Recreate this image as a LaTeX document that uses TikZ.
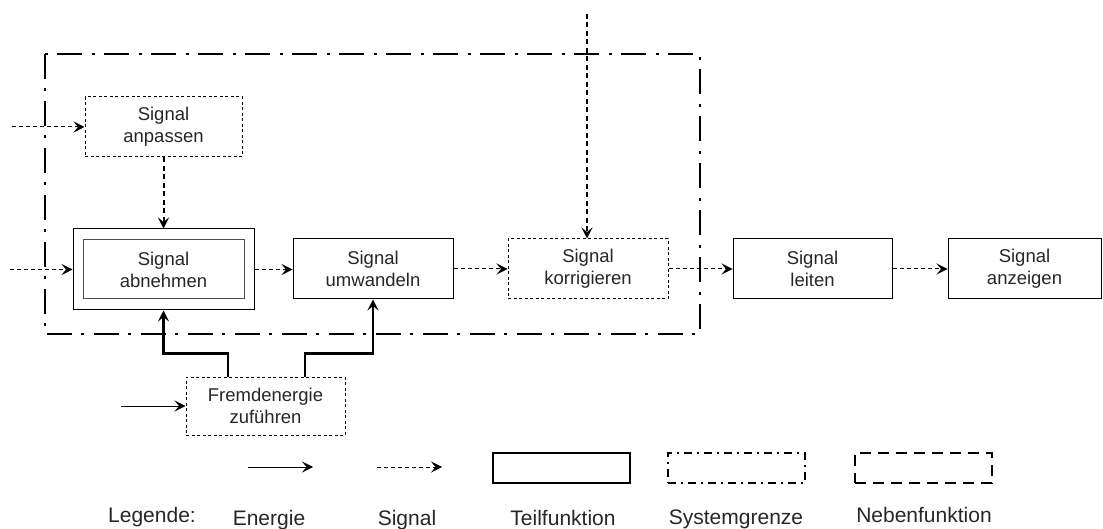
\documentclass[tikz,border=0pt]{standalone}
\usepackage{fontspec}
\setmainfont{Liberation Sans}
\usetikzlibrary{arrows.meta}
\begin{document}
\begin{tikzpicture}[x=1pt,y=-1pt,
  tip/.style={-{Stealth[length=11pt,width=11pt,inset=4.5pt]}},
  boxtext/.style={font=\fontsize{18.5}{22}\selectfont, align=center, text=black!85},
  func/.style={boxtext, draw, line width=1pt, minimum width=160pt, minimum height=60pt, inner sep=0pt},
  neben/.style={func, dash pattern=on 3pt off 2.5pt},
  sigline/.style={tip, line width=1pt, dash pattern=on 4pt off 3pt},
  sigthick/.style={tip, line width=2pt, dash pattern=on 5pt off 3.5pt},
  energy/.style={tip, line width=1pt},
  energythick/.style={tip, line width=2.5pt},
  boundary/.style={line width=2pt, dash pattern=on 25pt off 9pt on 3pt off 10pt},
  legtext/.style={font=\fontsize{21}{24}\selectfont, text=black!85, anchor=center}]
\useasboundingbox (0,0) rectangle (1103,529);

% system boundary
\draw[boundary] (45,54) rectangle (700,334);

% function blocks
\node[neben, minimum width=157pt] (anp) at (163.5,127) {Signal\\anpassen};
\node[draw, line width=1pt, minimum width=181pt, minimum height=81pt] (abn) at (163.5,269.5) {};
\node[func, draw=black!70, minimum width=161pt, minimum height=59pt] (abni) at (163.5,269.5) {Signal\\abnehmen};
\node[func] (umw) at (373,269) {Signal\\umwandeln};
\node[neben] (kor) at (588,269) {Signal\\korrigieren};
\node[func, minimum width=159pt] (lei) at (812.5,269) {Signal\\leiten};
\node[func, minimum width=153pt] (anz) at (1024.5,269) {Signal\\anzeigen};
\node[neben, minimum width=159pt, minimum height=58pt] (fre) at (265.5,406) {Fremdenergie\\zuführen};

% free ends of incoming connectors
\coordinate (inAnp) at (12,127);
\coordinate (inAbn) at (10,269.5);
\coordinate (inKor) at (587,14);
\coordinate (inFre) at (121,406);

% signal flow
\draw[sigline] (inAnp) -- (anp.west);
\draw[sigline] (inAbn) -- (abn.west);
\draw[sigthick] (anp.south) -- (abn.north);
\draw[sigthick] (inKor) -- (kor.north -| inKor);
\draw[sigline] (abn.east) -- (abn.east -| umw.west);
\draw[sigline] (umw.east) -- (kor.west);
\draw[sigline] (kor.east) -- (lei.west);
\draw[sigline] (lei.east) -- (anz.west);

% energy flow
\draw[energy] (inFre) -- (fre.west);
\draw[energythick] ([xshift=-37.5pt]fre.north) -- ++(0,-23) -| (abn.south);
\draw[energythick] ([xshift=39.5pt]fre.north) -- ++(0,-23) -| (umw.south);

% legend
\coordinate (le1) at (248,467);
\coordinate (le2) at (313,467);
\coordinate (ls1) at (377,467);
\coordinate (ls2) at (442,467);
\draw[energy] (le1) -- (le2);
\draw[sigline] (ls1) -- (ls2);
\node[draw, line width=2pt, minimum width=137pt, minimum height=30pt] (lteil) at (561.5,468) {};
\node[draw, line width=1.5pt, dash pattern=on 8pt off 5pt on 2pt off 5pt, minimum width=137pt, minimum height=30pt] (lsys) at (736.5,468) {};
\node[draw, line width=2pt, dash pattern=on 11pt off 7pt, minimum width=137pt, minimum height=30pt] (lneb) at (923.5,468) {};

\node[legtext] (tleg) at (152,517) {Legende:};
\node[legtext] (tene) at (269,520) {Energie};
\node[legtext] (tsig) at (407,520) {Signal};
\node[legtext] (tteil) at (563,518) {Teilfunktion};
\node[legtext] (tsys) at (736,519) {Systemgrenze};
\node[legtext] (tneb) at (924,515) {Nebenfunktion};
\end{tikzpicture}
\end{document}
